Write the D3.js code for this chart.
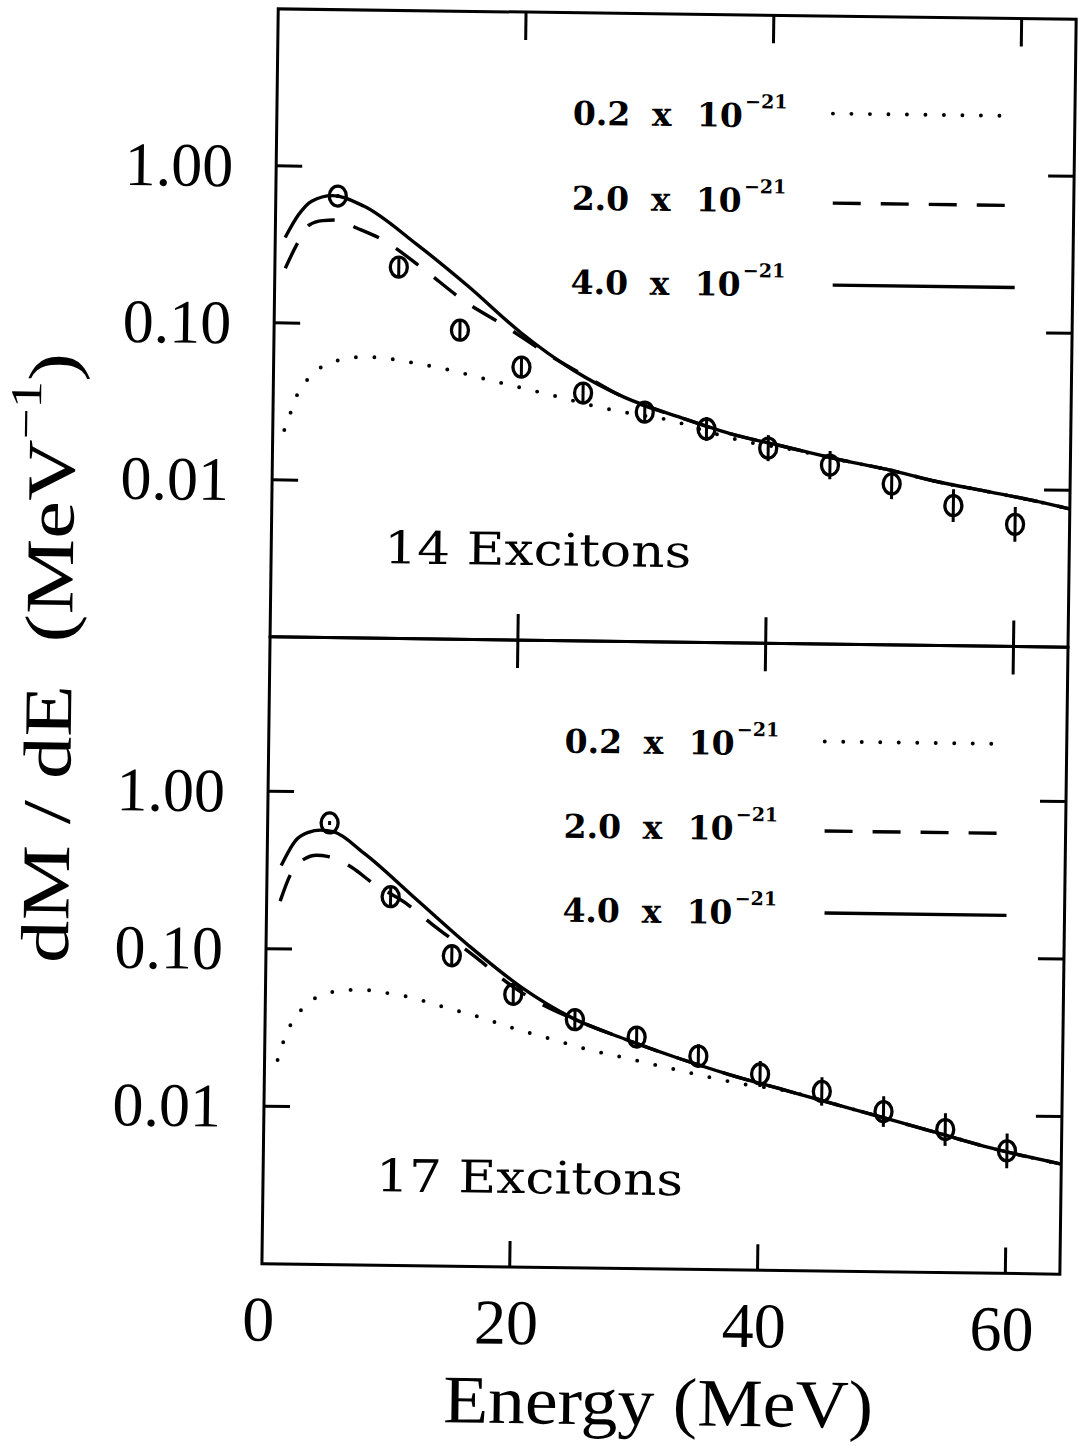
<!DOCTYPE html>
<html><head><meta charset="utf-8">
<script src="https://cdn.jsdelivr.net/npm/d3@7"></script>
<style>html,body{margin:0;padding:0;background:#fff;} svg{display:block;}</style>
</head><body>
<svg id="chart" width="1078" height="1446"></svg>
<script>
// ---------- data ----------
const energyTicks = [0, 20, 40, 60];
const energyInnerTicks = [20, 40, 60];
const yTickValues = [1, 0.1, 0.01];
const yTickLabels = ["1.00", "0.10", "0.01"];
const legendLabels = ["0.2", "2.0", "4.0"];
const legendExponent = "\u221221";
const panelLabels = ["14 Excitons", "17 Excitons"];

const dataEnergy = [5, 10, 15, 20, 25, 30, 35, 40, 45, 50, 55, 60];
const data14 = [0.65, 0.232, 0.093, 0.0548, 0.0379, 0.029, 0.0229, 0.0175, 0.0138, 0.0106, 0.0078, 0.0060];
const data17 = [0.636, 0.219, 0.0935, 0.0538, 0.0376, 0.0295, 0.0226, 0.0176, 0.0138, 0.0104, 0.0081, 0.0060];
const dataErr = [0.03, 0.16, 0.16, 0.16, 0.16, 0.17, 0.19, 0.21, 0.23, 0.25, 0.27, 0.29];

// 14 excitons
const e14_40 = [0.8, 1.85, 2.9, 4.6, 7.1, 11.4, 15.6, 19.9, 24.2, 28.4, 32.7, 36.9, 41.1, 45.4, 49.6, 53.8, 58.1, 62.3, 64.4];
const v14_40 = [0.35, 0.49, 0.60, 0.653, 0.564, 0.326, 0.178, 0.091, 0.0528, 0.0357, 0.0273, 0.0215, 0.0181, 0.0152, 0.0131, 0.0110, 0.00955, 0.00826, 0.0076];
const e14_20 = [0.84, 1.73, 2.73, 3.8, 4.9, 6.6, 8.7, 11.9, 15.2, 18.7, 22.0, 25.5, 28.4, 32.7, 36.9, 41.1, 45.4, 49.6, 53.8, 58.1, 62.3, 64.4];
const v14_20 = [0.223, 0.315, 0.423, 0.452, 0.457, 0.407, 0.344, 0.229, 0.145, 0.0989, 0.0674, 0.047, 0.0355, 0.0272, 0.0215, 0.0181, 0.0152, 0.0131, 0.0110, 0.00955, 0.00826, 0.0076];
const e14_02 = [0.93, 1.45, 1.96, 2.83, 3.9, 5.3, 6.7, 8.3, 9.7, 11.2, 14.2, 17.1, 20.0, 23.0, 25.9, 28.8, 32.2, 34.8, 38.0, 42.0, 45.4, 49.6, 53.8, 58.1, 62.3, 64.4];
const v14_02 = [0.0208, 0.0273, 0.0354, 0.0446, 0.0531, 0.0587, 0.0613, 0.0615, 0.0599, 0.0573, 0.0518, 0.0457, 0.0405, 0.0357, 0.0314, 0.0284, 0.0257, 0.0224, 0.0193, 0.0172, 0.0151, 0.0131, 0.0110, 0.00955, 0.00826, 0.0076];

// 17 excitons
const e17_40 = [1.14, 2.29, 3.3, 4.3, 5.3, 7.8, 12.07, 16.34, 20.6, 24.85, 29.1, 33.34, 37.58, 41.82, 46.05, 50.29, 54.53, 58.77, 64.4];
const v17_40 = [0.338, 0.49, 0.552, 0.572, 0.56, 0.412, 0.212, 0.109, 0.0601, 0.0383, 0.0285, 0.0219, 0.0173, 0.0141, 0.0115, 0.00938, 0.00764, 0.00622, 0.005];
const e17_20 = [1.09, 1.91, 2.95, 4.0, 4.85, 6.88, 8.46, 11.23, 13.36, 16.77, 19.98, 22.5, 24.85, 29.1, 33.34, 37.58, 41.82, 46.05, 50.29, 54.53, 58.77, 64.4];
const v17_20 = [0.201, 0.299, 0.372, 0.396, 0.39, 0.332, 0.269, 0.2, 0.148, 0.094, 0.06, 0.046, 0.0381, 0.0285, 0.0219, 0.0173, 0.0141, 0.0115, 0.00938, 0.00764, 0.00622, 0.005];
const e17_02 = [1.05, 1.45, 2.07, 2.9, 3.94, 5.41, 6.88, 8.49, 9.84, 11.32, 14.29, 17.26, 20.22, 23.19, 26.16, 29.12, 32.08, 35.04, 38.5, 42.0, 46.05, 50.29, 54.53, 58.77, 64.4];
const v17_02 = [0.0197, 0.0251, 0.0331, 0.0411, 0.0486, 0.0538, 0.0557, 0.0555, 0.0535, 0.0513, 0.0444, 0.0384, 0.0325, 0.0281, 0.0243, 0.0217, 0.0193, 0.0172, 0.0152, 0.0139, 0.0115, 0.00938, 0.00764, 0.00622, 0.005];

// ---------- layout ----------
const svg = d3.select("#chart");
svg.append("rect").attr("width", 1078).attr("height", 1446).attr("fill", "#fff");
const root = svg.append("g").attr("transform", "rotate(0.745, 668, 645)");

const x = d3.scaleLinear().domain([0, 64.4]).range([270, 1068]);

const styles = {
  dot:  {dash: "0 18.5", width: 3.9, cap: "round"},
  dash: {dash: "28 20", width: 3.4, cap: "butt"},
  solid:{dash: null, width: 3.4, cap: "butt"}
};

const panels = [
  {top: 14, bottom: 642, domain: [1e-3, 10], label: panelLabels[0], data: data14,
   curves: [["dot", e14_02, v14_02], ["dash", e14_20, v14_20], ["solid", e14_40, v14_40]]},
  {top: 642, bottom: 1269, domain: [1e-3, 9.55], label: panelLabels[1], data: data17,
   curves: [["dot", e17_02, v17_02], ["dash", e17_20, v17_20], ["solid", e17_40, v17_40]]}
];

const legendStyles = ["dot", "dash", "solid"];
const legendRowBase = [112, 197, 281];
const legendLineY = [97.5, 187, 269];
const legendLineX = [[826, 996], [827, 1000], [828, 1010]];

const serif = "'Liberation Serif', 'Times New Roman', serif";
const dserif = "'DejaVu Serif', serif";

panels.forEach((p, pi) => {
  const y = d3.scaleLog().domain(p.domain).range([p.bottom, p.top]);
  const g = root.append("g");
  const clipId = "clip" + pi;
  g.append("clipPath").attr("id", clipId).append("rect")
    .attr("x", x.range()[0]).attr("y", p.top)
    .attr("width", x.range()[1] - x.range()[0]).attr("height", p.bottom - p.top);

  const line = d3.line().x(d => x(d[0])).y(d => y(d[1])).curve(d3.curveMonotoneX);
  const cg = g.append("g").attr("clip-path", `url(#${clipId})`);
  p.curves.forEach(([st, es, vs]) => {
    const s = styles[st];
    cg.append("path")
      .attr("d", line(es.map((e, i) => [e, vs[i]])))
      .attr("fill", "none").attr("stroke", "#000")
      .attr("stroke-width", s.width)
      .attr("stroke-linecap", s.cap)
      .attr("stroke-dasharray", s.dash);
  });

  // data points
  const pg = g.append("g");
  dataEnergy.forEach((e, i) => {
    const v = p.data[i], er = dataErr[i];
    pg.append("line")
      .attr("x1", x(e)).attr("x2", x(e))
      .attr("y1", y(v * (1 + er))).attr("y2", y(v / (1 + er)))
      .attr("stroke", "#000").attr("stroke-width", 3);
    pg.append("ellipse")
      .attr("cx", x(e)).attr("cy", y(v)).attr("rx", 8.5).attr("ry", 10)
      .attr("fill", "none").attr("stroke", "#000").attr("stroke-width", 3.3);
  });

  // y ticks left and right
  yTickValues.forEach((v, i) => {
    g.append("line").attr("x1", x.range()[0]).attr("x2", x.range()[0] + 26)
      .attr("y1", y(v)).attr("y2", y(v)).attr("stroke", "#000").attr("stroke-width", 3);
    g.append("line").attr("x1", x.range()[1]).attr("x2", x.range()[1] - 26)
      .attr("y1", y(v)).attr("y2", y(v)).attr("stroke", "#000").attr("stroke-width", 3);
    g.append("text").attr("x", 227).attr("y", y(v) + 21)
      .attr("text-anchor", "end").attr("font-family", serif).attr("font-size", 62)
      .text(yTickLabels[i]);
  });

  // x ticks top and bottom of each panel
  energyInnerTicks.forEach(v => {
    g.append("line").attr("x1", x(v)).attr("x2", x(v))
      .attr("y1", p.top).attr("y2", p.top + 28).attr("stroke", "#000").attr("stroke-width", 3);
    g.append("line").attr("x1", x(v)).attr("x2", x(v))
      .attr("y1", p.bottom).attr("y2", p.bottom - 26).attr("stroke", "#000").attr("stroke-width", 3);
  });

  // frame
  g.append("rect").attr("x", x.range()[0]).attr("y", p.top)
    .attr("width", x.range()[1] - x.range()[0]).attr("height", p.bottom - p.top)
    .attr("fill", "none").attr("stroke", "#000").attr("stroke-width", 3);

  // panel label
  g.append("text").attr("x", 383).attr("y", p.top + 553)
    .attr("font-family", dserif).attr("font-size", 45)
    .attr("textLength", 307).attr("lengthAdjust", "spacingAndGlyphs")
    .text(p.label);

  // legend
  legendLabels.forEach((lab, i) => {
    const by = p.top + legendRowBase[i];
    const lx = 566;
    const parts = [
      [lab, 0, 0, 33],
      ["x", 79, 0, 33],
      ["10", 124, 0, 33],
      [legendExponent, 172, -19, 19]
    ];
    parts.forEach(([t, dx, dy, fs]) => {
      g.append("text").attr("x", lx + dx).attr("y", by + dy)
        .attr("font-family", dserif).attr("font-weight", "bold")
        .attr("font-size", fs).text(t);
    });
    const s = styles[legendStyles[i]];
    g.append("line")
      .attr("x1", legendLineX[i][0]).attr("x2", legendLineX[i][1])
      .attr("y1", p.top + legendLineY[i]).attr("y2", p.top + legendLineY[i])
      .attr("stroke", "#000").attr("stroke-width", s.width)
      .attr("stroke-linecap", s.cap).attr("stroke-dasharray", s.dash);
  });
});

// x tick labels
energyTicks.forEach(v => {
  root.append("text").attr("x", x(v) - 3).attr("y", 1346)
    .attr("text-anchor", "middle").attr("font-family", serif).attr("font-size", 64)
    .text(v);
});

// axis titles
root.append("text").attr("x", 668).attr("y", 1425)
  .attr("text-anchor", "middle").attr("font-family", serif).attr("font-size", 68)
  .attr("textLength", 430).attr("lengthAdjust", "spacingAndGlyphs")
  .text("Energy (MeV)");

const yl = root.append("text")
  .attr("transform", "translate(72, 666) rotate(-90)")
  .attr("text-anchor", "middle").attr("font-family", serif).attr("font-size", 68)
  .attr("textLength", 610).attr("lengthAdjust", "spacingAndGlyphs")
  .style("white-space", "pre");
yl.append("tspan").text("dM / dE  (MeV");
yl.append("tspan").attr("font-size", 44).attr("dy", -34).text("\u22121");
yl.append("tspan").attr("dy", 34).text(")");
</script>
</body></html>
